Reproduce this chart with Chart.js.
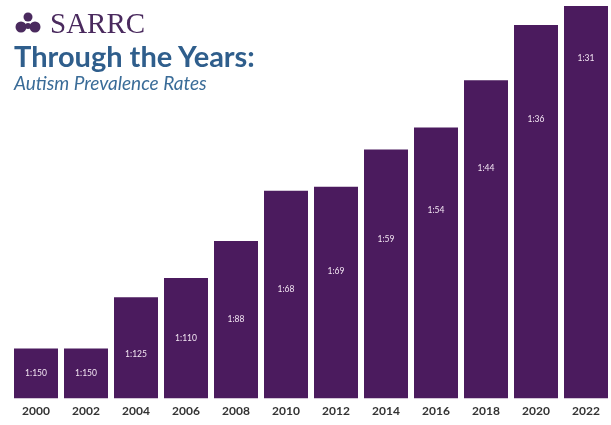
<!DOCTYPE html>
<html>
<head>
<meta charset="utf-8">
<script src="https://cdn.jsdelivr.net/npm/chart.js@4/dist/chart.umd.min.js"></script>
<style>
  html, body { margin: 0; padding: 0; background: #fff; }
  #wrap { position: relative; width: 611px; height: 425px; }
  #header { position: absolute; left: 14px; top: 10px; }
  .brand { display: flex; align-items: center; height: 26px; }
  .brand span { font-family: "Liberation Serif", serif; font-size: 29px; color: #4a2a5e; margin-left: 8px; line-height: 26px; }
  .title { font-family: Lato, sans-serif; font-weight: 700; font-size: 29px; color: #2f5e8c; margin-top: 3px; line-height: 34px; }
  .sub { font-family: Lato, sans-serif; font-style: italic; font-size: 19px; color: #3a6c98; line-height: 20px; }
</style>
</head>
<body>
<div id="wrap">
  <canvas id="chart" width="611" height="425"></canvas>
  <div id="header">
    <div class="brand">
      <svg width="28" height="22" viewBox="0 0 28 22">
        <circle cx="14" cy="5" r="4.5" fill="#4a2a5e"/>
        <circle cx="7" cy="15" r="5.5" fill="#4a2a5e"/>
        <circle cx="21" cy="15" r="5.5" fill="#4a2a5e"/>
        <circle cx="14" cy="14" r="3" fill="#4a2a5e"/>
      </svg>
      <span>SARRC</span>
    </div>
    <div class="title">Through the Years:</div>
    <div class="sub">Autism Prevalence Rates</div>
  </div>
</div>
<script>
// years on the x axis
const years = ["2000", "2002", "2004", "2006", "2008", "2010", "2012", "2014", "2016", "2018", "2020", "2022"];
// bar heights as drawn (arbitrary units)
const barHeights = [50, 50, 101, 120, 157, 207, 211, 248, 270, 317, 372, 391];
// prevalence text inside each bar
const rates = ["1:150", "1:150", "1:125", "1:110", "1:88", "1:68", "1:69", "1:59", "1:54", "1:44", "1:36", "1:31"];
// where the rate text sits, same units as bars
const rateAt = [25, 25, 44, 60, 79, 109, 127, 159, 188, 229, 278, 339];

const barColor = "#4b1b5e";

// writes the rate text into the bars
const rateLabels = {
  id: "rateLabels",
  afterDatasetsDraw(chart) {
    const ctx = chart.ctx;
    const meta = chart.getDatasetMeta(0);
    const y = chart.scales.y;
    ctx.save();
    ctx.fillStyle = "#f3e6f3";
    ctx.font = "8.5px Lato, sans-serif";
    ctx.textAlign = "center";
    ctx.textBaseline = "middle";
    meta.data.forEach((bar, i) => {
      ctx.fillText(rates[i], bar.x, y.getPixelForValue(rateAt[i]));
    });
    ctx.restore();
  },
};

new Chart(document.getElementById("chart"), {
  type: "bar",
  data: {
    labels: years,
    datasets: [
      {
        data: barHeights,
        backgroundColor: barColor,
        borderWidth: 0,
        barPercentage: 0.88,
        categoryPercentage: 1,
      },
    ],
  },
  plugins: [rateLabels],
  options: {
    responsive: false,
    animation: false,
    layout: { padding: { left: 11, right: 0, top: 0, bottom: 2 } },
    plugins: { legend: { display: false }, tooltip: { enabled: false } },
    scales: {
      x: {
        grid: { display: false, drawTicks: false },
        border: { display: false },
        ticks: {
          color: "#333",
          font: { family: "Lato, sans-serif", size: 12, weight: "bold" },
          padding: 5,
          maxRotation: 0,
        },
      },
      y: {
        display: false,
        min: 0,
        max: 397,
      },
    },
  },
});
</script>
</body>
</html>
